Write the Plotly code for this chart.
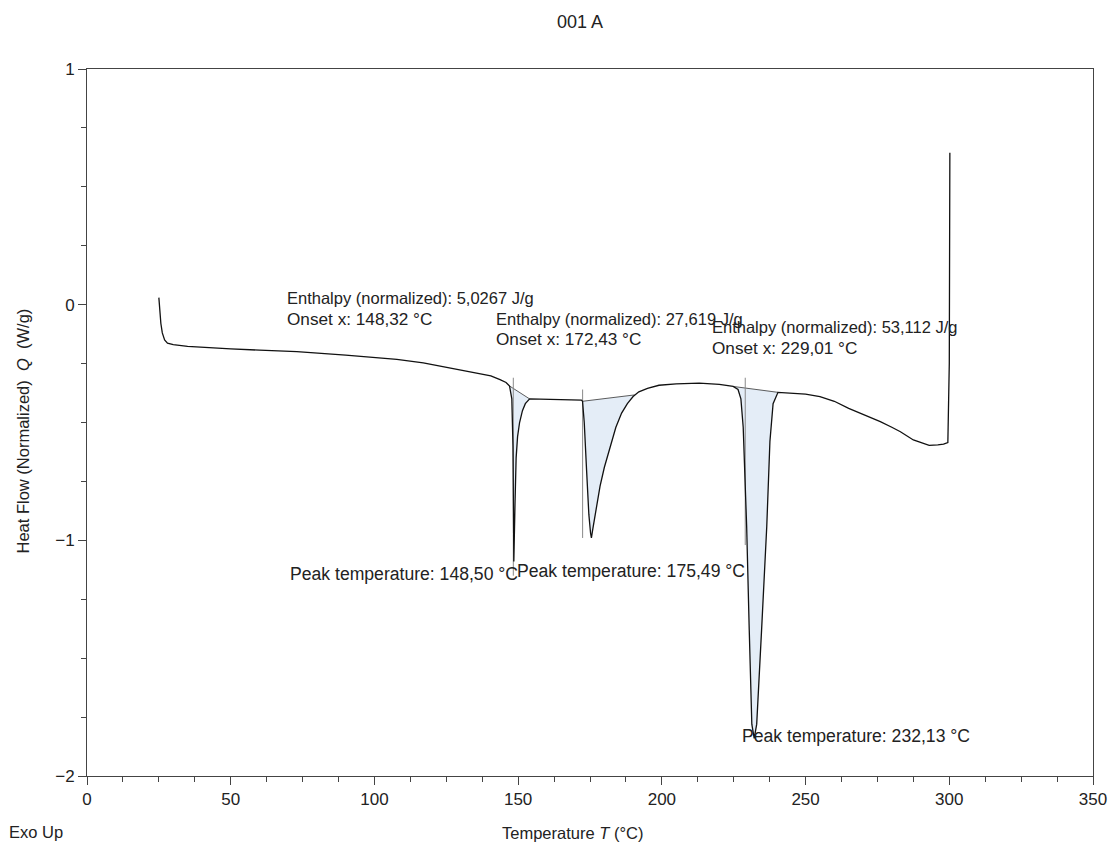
import plotly.graph_objects as go

# DSC heat-flow curve (normalized), Exo Up
temperature = [
    25.0, 25.3, 25.7, 26.2, 27.0, 28.0, 30.0, 35.0, 40.0, 50.0, 60.0, 73.0, 90.0,
    107.8, 117.0, 123.9, 130.0, 136.7, 140.5, 143.7, 145.8, 147.0, 147.8, 148.2,
    148.5, 148.9, 149.3, 149.8, 150.5, 151.5, 152.5, 154.0, 160.0, 166.0, 172.0,
    172.4, 173.0, 173.8, 174.6, 175.2, 175.49, 176.0, 177.0, 178.5, 180.0, 182.0,
    184.0, 186.0, 188.0, 190.0, 192.0, 195.0, 199.0, 205.0, 213.0, 220.0, 224.8,
    226.5, 227.5, 228.3, 229.5, 230.4, 231.3, 232.13, 233.0, 234.7, 236.5, 237.6,
    238.7, 240.4, 245.0, 250.0, 255.0, 260.0, 265.0, 270.0, 276.0, 280.0, 283.0,
    287.5, 290.0, 293.0, 296.0, 298.0, 299.5, 300.0, 300.2,
]
heat_flow = [
    0.03, -0.02, -0.08, -0.12, -0.15, -0.163, -0.170, -0.177, -0.181, -0.188,
    -0.193, -0.199, -0.214, -0.232, -0.247, -0.263, -0.276, -0.290, -0.302,
    -0.318, -0.330, -0.345, -0.40, -0.60, -1.09, -0.85, -0.65, -0.56, -0.50,
    -0.45, -0.42, -0.40, -0.402, -0.404, -0.405, -0.41, -0.50, -0.70, -0.89,
    -0.97, -0.99, -0.95, -0.87, -0.77, -0.69, -0.60, -0.52, -0.46, -0.42,
    -0.39, -0.37, -0.355, -0.342, -0.336, -0.333, -0.338, -0.347, -0.36, -0.40,
    -0.52, -0.94, -1.38, -1.78, -1.84, -1.78, -1.38, -0.94, -0.58, -0.42,
    -0.372, -0.375, -0.38, -0.39, -0.41, -0.44, -0.465, -0.496, -0.52, -0.539,
    -0.574, -0.585, -0.597, -0.595, -0.592, -0.585, -0.25, 0.645,
]

# integration limits (start, end) of each peak and its linear baseline values
peak_limits = [(147.0, 154.0), (172.4, 190.5), (224.8, 240.4)]
baseline_values = [(-0.345, -0.40), (-0.41, -0.383), (-0.347, -0.372)]

onset_temps = [148.32, 172.43, 229.01]
onset_marker_y = [(-0.31, -1.15), (-0.36, -0.99), (-0.31, -1.02)]
peak_temps = [148.50, 175.49, 232.13]
enthalpies = ["5,0267", "27,619", "53,112"]
onset_labels = ["148,32", "172,43", "229,01"]
peak_labels = ["148,50", "175,49", "232,13"]

FONT = "Liberation Sans, Arial, sans-serif"
TXT = "#222222"
FS = 16.5

fig = go.Figure()


def interp(x, xs, ys):
    for i in range(len(xs) - 1):
        if xs[i] <= x <= xs[i + 1]:
            if xs[i + 1] == xs[i]:
                return ys[i]
            t = (x - xs[i]) / (xs[i + 1] - xs[i])
            return ys[i] + t * (ys[i + 1] - ys[i])
    return ys[-1]


# shaded peak areas between curve and baseline
for (t0, t1), (b0, b1) in zip(peak_limits, baseline_values):
    seg_t = [t0] + [t for t in temperature if t0 < t < t1] + [t1]
    seg_q = [interp(t, temperature, heat_flow) for t in seg_t]
    fig.add_trace(go.Scatter(
        x=seg_t + [t1, t0], y=seg_q + [b1, b0], fill="toself",
        fillcolor="rgba(205,222,240,0.55)", line=dict(width=0),
        mode="lines", hoverinfo="skip", showlegend=False,
    ))
    fig.add_trace(go.Scatter(
        x=[t0, t1], y=[b0, b1], mode="lines",
        line=dict(color="#333333", width=0.8), showlegend=False,
    ))

# onset marker lines
for t, (ya, yb) in zip(onset_temps, onset_marker_y):
    fig.add_trace(go.Scatter(
        x=[t, t], y=[ya, yb], mode="lines",
        line=dict(color="#8a8a8a", width=1), showlegend=False,
    ))

fig.add_trace(go.Scatter(
    x=temperature, y=heat_flow, mode="lines",
    line=dict(color="#111111", width=1.3), showlegend=False,
))

# result labels
enth_pos = [(68.9, 0.028, -0.061), (141.6, -0.061, -0.146), (216.8, -0.095, -0.184)]
peak_pos = [(69.9, -1.143), (148.9, -1.13), (227.2, -1.829)]
for (x0, y1, y2), e, o in zip(enth_pos, enthalpies, onset_labels):
    fig.add_annotation(x=x0, y=y1, text=f"Enthalpy (normalized): {e} J/g",
                       xanchor="left", yanchor="middle", showarrow=False)
    fig.add_annotation(x=x0, y=y2, text=f"Onset x: {o} °C", font=dict(size=17.2),
                       xanchor="left", yanchor="middle", showarrow=False)
for (x0, y0), p in zip(peak_pos, peak_labels):
    fig.add_annotation(x=x0, y=y0, text=f"Peak temperature: {p} °C",
                       font=dict(size=17.6),
                       xanchor="left", yanchor="middle", showarrow=False)

# titles
fig.add_annotation(xref="paper", yref="paper", x=0.49, y=1.0, yshift=47,
                   text="001 A", font=dict(size=18), showarrow=False,
                   xanchor="center", yanchor="middle")
fig.add_annotation(xref="paper", yref="paper", x=0.483, y=0.0, yshift=-57,
                   text="Temperature <i>T</i> (°C)", showarrow=False,
                   xanchor="center", yanchor="middle")
fig.add_annotation(xref="paper", yref="paper", x=0.0, y=0.0, xshift=-80, yshift=-56,
                   text="Exo Up", showarrow=False, xanchor="left", yanchor="middle")
fig.add_annotation(xref="paper", yref="paper", x=0.0, y=0.5, xshift=-65, yshift=-9,
                   text="Heat Flow (Normalized)  <i>Q</i>  (W/g)", textangle=-90,
                   showarrow=False, xanchor="center", yanchor="middle")

axis_common = dict(
    showgrid=False, zeroline=False, showline=True, linecolor="#444444",
    linewidth=1, mirror=True, ticks="outside", ticklen=8, tickcolor="#444444",
    tickfont=dict(family=FONT, size=17, color=TXT), automargin=False,
)
fig.update_xaxes(range=[0, 350], tick0=0, dtick=50,
                 minor=dict(dtick=12.5, ticks="outside", ticklen=5, tickcolor="#444444"),
                 **axis_common)
fig.update_yaxes(range=[-2, 1], tick0=-2, dtick=1,
                 minor=dict(dtick=0.25, ticks="outside", ticklen=5, tickcolor="#444444"),
                 **axis_common)

fig.update_layout(
    width=1115, height=849,
    margin=dict(l=87, r=22, t=69, b=73),
    plot_bgcolor="white", paper_bgcolor="white",
    font=dict(family=FONT, size=FS, color=TXT),
    showlegend=False,
)

fig.write_html("out.html")
